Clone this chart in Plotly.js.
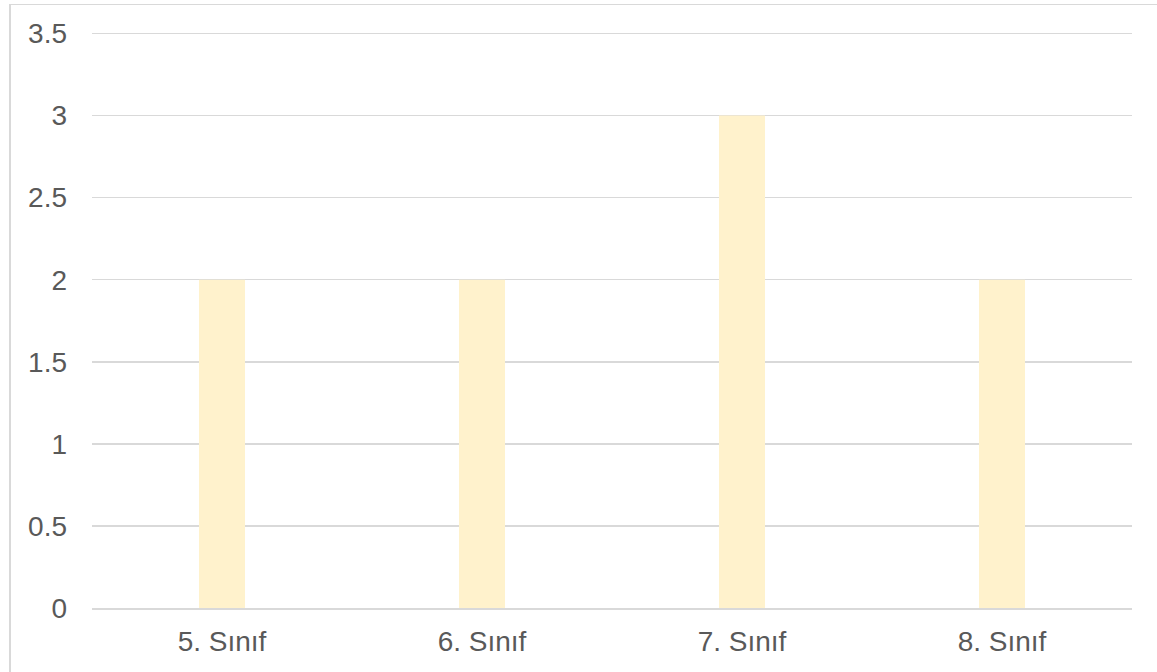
<!DOCTYPE html>
<html>
<head>
<meta charset="utf-8">
<script src="https://cdn.plot.ly/plotly-3.0.1.min.js"></script>
<style>
  html, body { margin: 0; padding: 0; background: #ffffff; overflow: hidden; }
  #frame { position: absolute; left: 9px; top: 4px; width: 1200px; height: 720px;
           border-left: 2px solid #d9d9d9; border-top: 1.5px solid #d9d9d9; box-sizing: border-box; }
  #chart { position: absolute; left: 0; top: 0; width: 1157px; height: 672px; }
</style>
</head>
<body>
<div id="frame"></div>
<div id="chart"></div>
<script>
// Grade levels and their counts
const categories = ['5. Sınıf', '6. Sınıf', '7. Sınıf', '8. Sınıf'];
const values = [2, 2, 3, 2];
const yTicks = [0, 0.5, 1, 1.5, 2, 2.5, 3, 3.5];
const yTickText = ['0', '0.5', '1', '1.5', '2', '2.5', '3', '3.5'];

const trace = {
  type: 'bar',
  x: categories,
  y: values,
  marker: { color: '#fff2cc', line: { width: 0 } },
  hoverinfo: 'x+y'
};

const layout = {
  width: 1157,
  height: 672,
  margin: { l: 92, r: 25, t: 31, b: 64 },
  paper_bgcolor: 'rgba(0,0,0,0)',
  plot_bgcolor: 'rgba(0,0,0,0)',
  bargap: 0.823,
  showlegend: false,
  font: { family: 'Liberation Sans, Arial, sans-serif', size: 28, color: '#595959' },
  xaxis: {
    type: 'category',
    showgrid: false,
    showline: true,
    linecolor: '#d9d9d9',
    linewidth: 1.5,
    ticks: '',
    ticklabelstandoff: 8,
    tickfont: { size: 28, color: '#595959' }
  },
  yaxis: {
    // a little headroom so the top gridline at 3.5 is not clipped at the edge
    range: [0, 3.515],
    tickvals: yTicks,
    ticktext: yTickText,
    showgrid: true,
    gridcolor: '#d9d9d9',
    gridwidth: 1.5,
    zeroline: false,
    showline: false,
    ticks: '',
    ticklabelstandoff: 24,
    tickfont: { size: 28, color: '#595959' }
  }
};

Plotly.newPlot('chart', [trace], layout, { displayModeBar: false, staticPlot: true });
</script>
</body>
</html>
